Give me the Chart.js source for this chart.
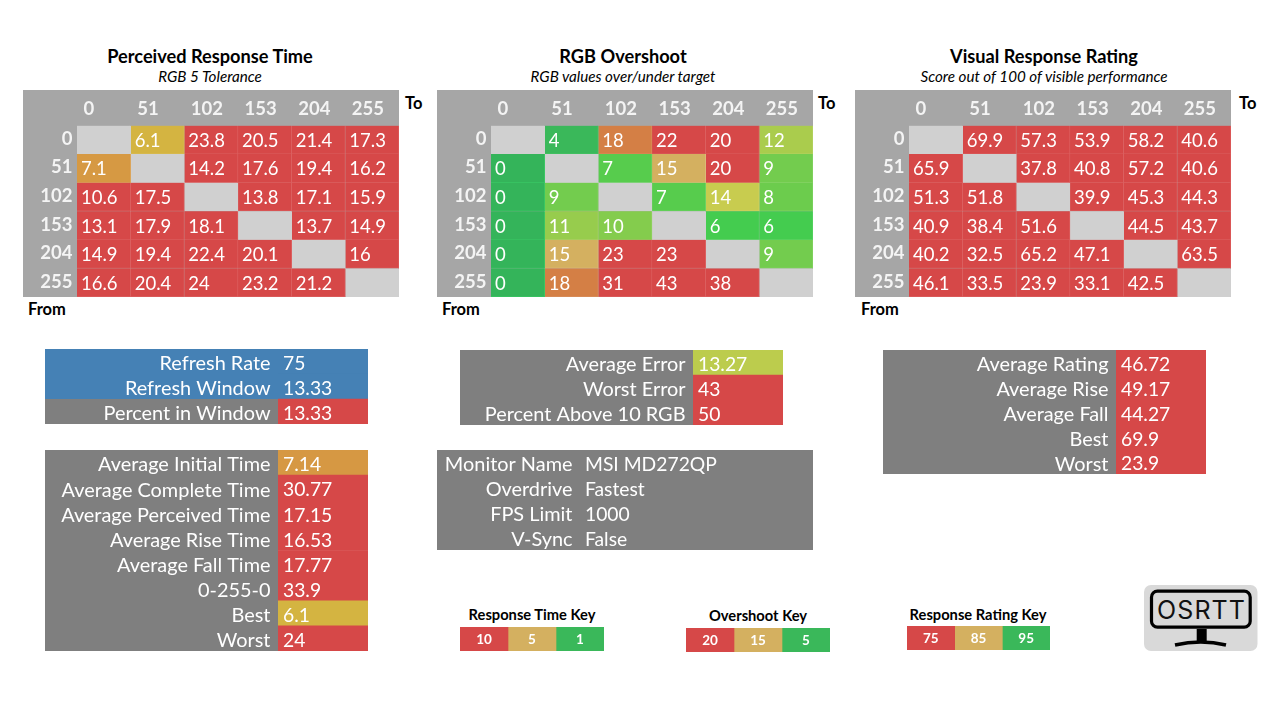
<!DOCTYPE html>
<html>
<head>
<meta charset="UTF-8">
<title>OSRTT response report</title>
<script src="https://cdn.jsdelivr.net/npm/chart.js@4/dist/chart.umd.min.js"></script>
<style>
  body { margin: 0; background: #fff; font-family: Lato, sans-serif; color: #000; overflow: hidden; }
  canvas, .txt, svg { position: absolute; }
  .txt { white-space: nowrap; line-height: 1; }
  .title { font-size: 18.2px; font-weight: bold; transform: translate(-50%, -50%); }
  .sub { font-size: 15.2px; font-style: italic; transform: translate(-50%, -50%); }
  .axis { font-size: 16.5px; font-weight: bold; transform: translateY(-50%); }
  .key { font-size: 14.7px; font-weight: bold; transform: translate(-50%, -50%); }
</style>
</head>
<body>
<script>
// levels used on both heatmap axes
const levels = ['0', '51', '102', '153', '204', '255'];

const perceivedTime = [
  [null, 6.1, 23.8, 20.5, 21.4, 17.3],
  [7.1, null, 14.2, 17.6, 19.4, 16.2],
  [10.6, 17.5, null, 13.8, 17.1, 15.9],
  [13.1, 17.9, 18.1, null, 13.7, 14.9],
  [14.9, 19.4, 22.4, 20.1, null, 16],
  [16.6, 20.4, 24, 23.2, 21.2, null]
];
const overshoot = [
  [null, 4, 18, 22, 20, 12],
  [0, null, 7, 15, 20, 9],
  [0, 9, null, 7, 14, 8],
  [0, 11, 10, null, 6, 6],
  [0, 15, 23, 23, null, 9],
  [0, 18, 31, 43, 38, null]
];
const visualRating = [
  [null, 69.9, 57.3, 53.9, 58.2, 40.6],
  [65.9, null, 37.8, 40.8, 57.2, 40.6],
  [51.3, 51.8, null, 39.9, 45.3, 44.3],
  [40.9, 38.4, 51.6, null, 44.5, 43.7],
  [40.2, 32.5, 65.2, 47.1, null, 63.5],
  [46.1, 33.5, 23.9, 33.1, 42.5, null]
];

const refreshLabels = ['Refresh Rate', 'Refresh Window', 'Percent in Window'];
const refreshValues = [75, 13.33, 13.33];
const timeLabels = ['Average Initial Time', 'Average Complete Time', 'Average Perceived Time', 'Average Rise Time', 'Average Fall Time', '0-255-0', 'Best', 'Worst'];
const timeValues = [7.14, 30.77, 17.15, 16.53, 17.77, 33.9, 6.1, 24];
const errorLabels = ['Average Error', 'Worst Error', 'Percent Above 10 RGB'];
const errorValues = [13.27, 43, 50];
const monitorLabels = ['Monitor Name', 'Overdrive', 'FPS Limit', 'V-Sync'];
const monitorValues = ['MSI MD272QP', 'Fastest', '1000', 'False'];
const ratingLabels = ['Average Rating', 'Average Rise', 'Average Fall', 'Best', 'Worst'];
const ratingValues = [46.72, 49.17, 44.27, 69.9, 23.9];

const timeKey = [10, 5, 1];
const overshootKey = [20, 15, 5];
const ratingKey = [75, 85, 95];

// colours
const RED = '#d64848', TAN = '#d4b060', GREEN = '#3ab85a';
const GREY = '#7f7f7f', BLUE = '#4581b5', HEADER = '#a6a6a6', EMPTY = '#d0d0d0';
const FONT = 'Lato, sans-serif';

const timeStops = [[6.1, '#d4b441'], [7.14, '#d69843'], [10, RED]];
const overshootStops = [
  [0, '#34b45a'], [4, GREEN], [6, '#44cc4f'], [7, '#57cc4d'], [8, '#6ccc4d'], [9, '#73cc4e'],
  [10, '#84cc4d'], [11, '#97cc4d'], [12, '#aacc4d'], [13.27, '#bccc4d'], [14, '#c8cc4f'],
  [15, TAN], [18, '#d47f45'], [20, RED]
];
const ratingStops = [[75, RED]];

function hexToRgb(h) {
  return [1, 3, 5].map(i => parseInt(h.substr(i, 2), 16));
}

function colorFor(stops, v) {
  if (v <= stops[0][0]) return stops[0][1];
  for (let i = 1; i < stops.length; i++) {
    if (v <= stops[i][0]) {
      const [a, ca] = stops[i - 1], [b, cb] = stops[i];
      const t = (v - a) / (b - a);
      const x = hexToRgb(ca), y = hexToRgb(cb);
      return `rgb(${x.map((c, k) => Math.round(c + (y[k] - c) * t)).join(',')})`;
    }
  }
  return stops[stops.length - 1][1];
}

// writes the value of each cell inside its bar
const cellText = {
  id: 'cellText',
  afterDatasetsDraw(chart, args, o) {
    const ctx = chart.ctx;
    ctx.save();
    ctx.fillStyle = '#fff';
    ctx.font = `${o.weight || 'normal'} ${o.size}px ${FONT}`;
    ctx.textBaseline = 'middle';
    ctx.textAlign = o.center ? 'center' : 'left';
    chart.getSortedVisibleDatasetMetas().forEach(meta => {
      meta.data.forEach((bar, i) => {
        const v = meta.controller.getDataset().data[i].v;
        if (v === null) return;
        const x = o.center ? (bar.base + bar.x) / 2 : bar.base + o.pad;
        ctx.fillText(String(v), x, bar.y + (o.dy || 1));
      });
    });
    ctx.restore();
  }
};

// fills the label column of a table chart, one band per row
const rowBands = {
  id: 'rowBands',
  beforeDraw(chart, args, o) {
    const y = chart.scales.y, h = chart.chartArea.height / y.ticks.length;
    chart.ctx.save();
    y.ticks.forEach((t, i) => {
      const top = Math.round(y.getPixelForTick(i) - h / 2);
      const bottom = Math.round(y.getPixelForTick(i) + h / 2);
      chart.ctx.fillStyle = o.fills[i];
      chart.ctx.fillRect(0, top, chart.chartArea.left, bottom - top);
    });
    chart.ctx.restore();
  }
};

function addCanvas(box) {
  const c = document.createElement('canvas');
  c.width = box.w;
  c.height = box.h;
  c.style.left = box.x + 'px';
  c.style.top = box.y + 'px';
  document.body.appendChild(c);
  return c;
}

function addText(cls, text, x, y) {
  const d = document.createElement('div');
  d.className = 'txt ' + cls;
  d.textContent = text;
  d.style.left = x + 'px';
  d.style.top = y + 'px';
  document.body.appendChild(d);
}

// the row axis must not ask for room above and below for its labels
function fitRowAxis(width) {
  return s => {
    s.width = width;
    s.paddingTop = 0;
    s.paddingBottom = 0;
  };
}

const baseOptions = { responsive: false, animation: false, events: [], layout: { padding: 0 } };
const bareAxis = { grid: { display: false, drawTicks: false }, border: { display: false } };

function heatmap(box, values, stops) {
  const c = addCanvas(box);
  c.style.background = HEADER;
  const fill = ctx => ctx.raw.v === null ? EMPTY : colorFor(stops, ctx.raw.v);
  const datasets = levels.map((_, col) => ({
    data: levels.map((row, r) => ({ y: row, x: [col, col + 1], v: values[r][col] })),
    backgroundColor: fill,
    borderColor: ctx => ctx.raw.v === null ? EMPTY : Chart.helpers.color(fill(ctx)).lighten(0.1).rgbString(),
    borderWidth: { right: 1, bottom: 1 },
    borderSkipped: false,
    grouped: false,
    barPercentage: 1,
    categoryPercentage: 1
  }));
  new Chart(c, {
    type: 'bar',
    data: { labels: levels, datasets },
    options: {
      ...baseOptions,
      indexAxis: 'y',
      plugins: { legend: { display: false }, tooltip: { enabled: false }, cellText: { size: 18.5, pad: 4 } },
      scales: {
        x: {
          ...bareAxis, type: 'linear', position: 'top', min: 0, max: 6,
          afterFit: s => { s.height = 35.5; s.paddingLeft = 0; s.paddingRight = 0; },
          ticks: {
            stepSize: 1, maxRotation: 0, autoSkip: false, align: 'start', labelOffset: 6.5, padding: 5,
            color: '#f4f4f4', font: { family: FONT, size: 18.5, weight: 'bold' },
            callback: v => levels[v]
          }
        },
        y: {
          ...bareAxis,
          afterFit: fitRowAxis(54),
          ticks: { autoSkip: false, padding: 4.5, labelOffset: -1, color: '#f4f4f4', font: { family: FONT, size: 18.5, weight: 'bold' } }
        }
      }
    },
    plugins: [cellText]
  });
}

function table(box, split, labels, values, valueFills, labelFills) {
  const c = addCanvas(box);
  new Chart(c, {
    type: 'bar',
    data: {
      labels,
      datasets: [{
        data: labels.map((l, i) => ({ y: l, x: [0, 1], v: values[i] })),
        backgroundColor: valueFills,
        borderWidth: 0,
        barPercentage: 1,
        categoryPercentage: 1
      }]
    },
    options: {
      ...baseOptions,
      indexAxis: 'y',
      plugins: {
        legend: { display: false },
        tooltip: { enabled: false },
        cellText: { size: 19.3, pad: 5, dy: 2.5 },
        rowBands: { fills: labelFills || labels.map(() => GREY) }
      },
      scales: {
        x: { ...bareAxis, display: false, type: 'linear', min: 0, max: 1 },
        y: {
          ...bareAxis,
          afterFit: fitRowAxis(split),
          ticks: { autoSkip: false, padding: 7.5, labelOffset: 2.5, color: '#fff', font: { family: FONT, size: 19.9 } }
        }
      }
    },
    plugins: [rowBands, cellText]
  });
}

function keyStrip(box, values) {
  const c = addCanvas(box);
  new Chart(c, {
    type: 'bar',
    data: {
      labels: ['key'],
      datasets: values.map((v, i) => ({
        data: [{ y: 'key', x: [i, i + 1], v }],
        backgroundColor: [RED, TAN, GREEN][i],
        borderWidth: 0,
        grouped: false,
        barPercentage: 1,
        categoryPercentage: 1
      }))
    },
    options: {
      ...baseOptions,
      indexAxis: 'y',
      plugins: {
        legend: { display: false },
        tooltip: { enabled: false },
        cellText: { size: 13.5, weight: 'bold', center: true }
      },
      scales: {
        x: { ...bareAxis, display: false, type: 'linear', min: 0, max: values.length },
        y: { ...bareAxis, display: false }
      }
    },
    plugins: [cellText]
  });
}

// heatmap panels
heatmap({ x: 23, y: 90, w: 376, h: 207 }, perceivedTime, timeStops);
heatmap({ x: 437, y: 90, w: 376, h: 207 }, overshoot, overshootStops);
heatmap({ x: 855, y: 90, w: 376, h: 207 }, visualRating, ratingStops);

addText('title', 'Perceived Response Time', 210, 56);
addText('sub', 'RGB 5 Tolerance', 210, 77);
addText('title', 'RGB Overshoot', 623, 56);
addText('sub', 'RGB values over/under target', 623, 77);
addText('title', 'Visual Response Rating', 1044, 56);
addText('sub', 'Score out of 100 of visible performance', 1044, 77);

[[405, 28], [818, 442], [1239, 861]].forEach(([to, from]) => {
  addText('axis', 'To', to, 103);
  addText('axis', 'From', from, 309);
});

// summary tables
table({ x: 45, y: 349, w: 323, h: 75 }, 233, refreshLabels, refreshValues,
  [BLUE, BLUE, colorFor(timeStops, refreshValues[2])], [BLUE, BLUE, GREY]);
table({ x: 45, y: 450, w: 323, h: 201 }, 233, timeLabels, timeValues, timeValues.map(v => colorFor(timeStops, v)));
table({ x: 460, y: 350, w: 323, h: 75 }, 233, errorLabels, errorValues, errorValues.map(v => colorFor(overshootStops, v)));
table({ x: 437, y: 450, w: 376, h: 100 }, 143, monitorLabels, monitorValues, monitorValues.map(() => GREY));
table({ x: 883, y: 350, w: 323, h: 124 }, 233, ratingLabels, ratingValues, ratingValues.map(v => colorFor(ratingStops, v)));

// colour keys
keyStrip({ x: 460, y: 627, w: 144, h: 24 }, timeKey);
keyStrip({ x: 686, y: 628, w: 144, h: 24 }, overshootKey);
keyStrip({ x: 907, y: 626, w: 143, h: 24 }, ratingKey);
addText('key', 'Response Time Key', 532, 614);
addText('key', 'Overshoot Key', 758, 615);
addText('key', 'Response Rating Key', 978, 614);
</script>
<svg style="left:1144px;top:585px" width="114" height="67" viewBox="0 0 114 67">
  <rect width="113.5" height="66" rx="7" fill="#d9d9d9"/>
  <rect x="7.5" y="6.2" width="98.7" height="36" rx="6" fill="none" stroke="#000" stroke-width="3.2"/>
  <text x="57" y="33.7" text-anchor="middle" textLength="88" font-family="Inter, sans-serif" font-size="25" fill="#111">OSRTT</text>
  <path d="M52.7 44h10v13h-10z" fill="#000"/>
  <path d="M31 60 Q57 54 82 60" fill="none" stroke="#000" stroke-width="3.5"/>
</svg>
</body>
</html>
